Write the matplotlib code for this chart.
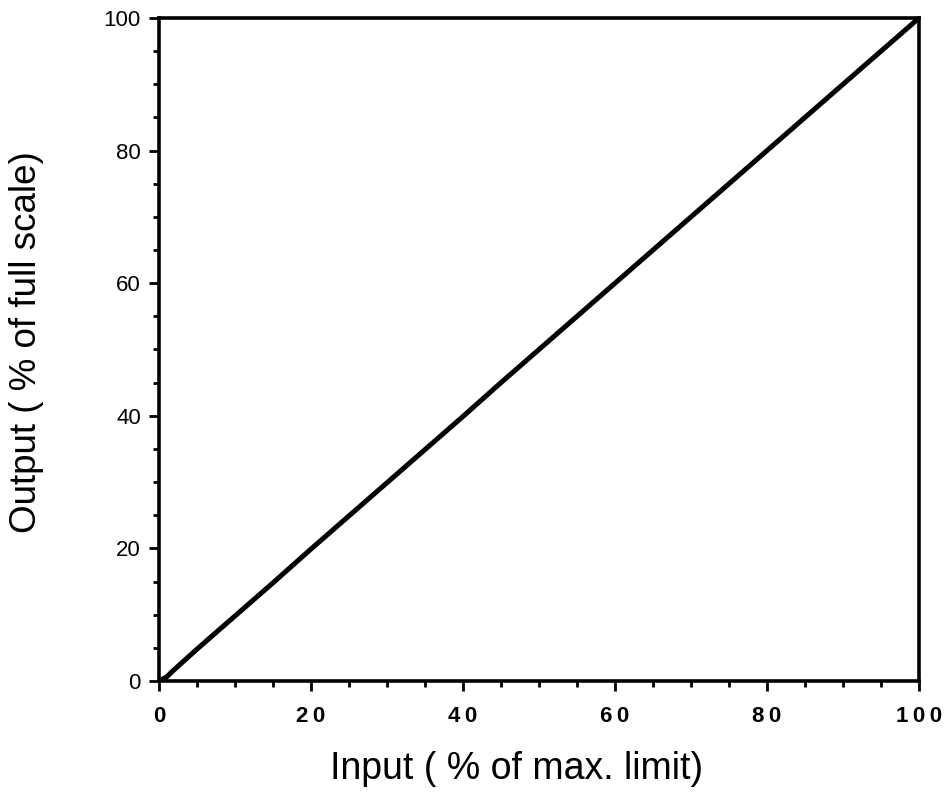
import numpy as np
import matplotlib.pyplot as plt
from matplotlib.ticker import MultipleLocator

# transfer curve (input % vs output %)
inp = [0, 1, 2, 5, 10, 15, 20, 25, 30, 35, 40, 45, 50, 55, 60, 65, 70, 75, 80, 85, 90, 95, 99, 100]
out = [0, 0.6, 1.7, 4.8, 9.8, 14.8, 19.9, 24.9, 29.9, 34.9, 39.9, 45.0, 50.0, 55.0, 60.0, 65.0, 70.0, 75.0, 80.0, 85.0, 90.0, 95.0, 99.0, 100]

x_ticks = [0, 20, 40, 60, 80, 100]
x_ticklabels = ["0", "2\u20090", "4\u20090", "6\u20090", "8\u20090", "1\u20090\u20090"]
y_ticks = [0, 20, 40, 60, 80, 100]

plt.rcParams["font.family"] = ["Liberation Sans", "DejaVu Sans"]

fig = plt.figure(figsize=(9.49, 7.96), dpi=100)
ax = fig.add_axes([0.1675, 0.1445, 0.8009, 0.8329])

ax.plot(inp, out, color="black", lw=3.6, solid_capstyle="round")

ax.set_xlim(0, 100)
ax.set_ylim(0, 100)

ax.set_xticks(x_ticks)
ax.set_xticklabels(x_ticklabels, fontsize=16, fontweight="bold")
ax.set_yticks(y_ticks)
ax.set_yticklabels([str(v) for v in y_ticks], fontsize=16)
ax.xaxis.set_minor_locator(MultipleLocator(5))
ax.yaxis.set_minor_locator(MultipleLocator(5))

ax.tick_params(which="major", direction="out", length=7, width=2)
ax.tick_params(which="minor", direction="out", length=4, width=2)
ax.tick_params(axis="x", which="major", pad=11)
ax.tick_params(axis="y", which="major", pad=6)
ax.tick_params(top=False, right=False)

for s in ax.spines.values():
    s.set_linewidth(2.6)

ax.set_xlabel("Input ( % of max. limit)", fontsize=27)
ax.xaxis.set_label_coords(0.47, -0.106)
ax.set_ylabel("Output ( % of full scale)", fontsize=26.5)
ax.yaxis.set_label_coords(-0.151, 0.511)

fig.savefig("out.png", dpi=100)
